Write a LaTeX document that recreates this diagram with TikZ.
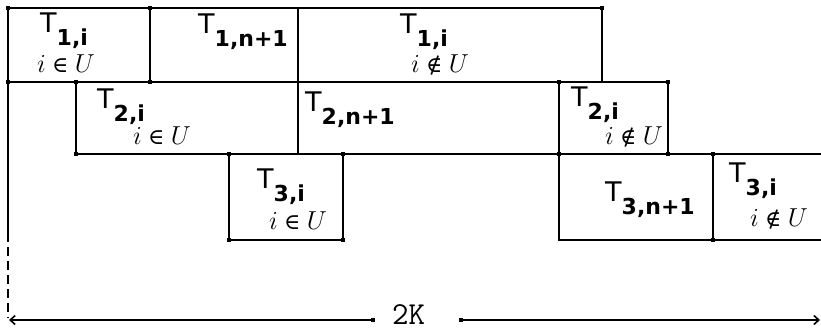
\RequirePackage{fix-cm}
\documentclass[tikz,border=0pt]{standalone}
\usepackage{fontspec}
\setmainfont{DejaVu Sans}
\newfontfamily\relfont{DejaVu Serif}
\usetikzlibrary{arrows.meta}
\tikzset{
  ln/.style={line width=1.6pt, line cap=rect},
  lbl/.style={inner sep=0pt, anchor=base west, font=\fontsize{27}{29}\selectfont},
  cond/.style={inner sep=0pt, font=\fontsize{26}{28}\selectfont},
  dotbox/.style={fill=black, minimum size=4.5pt, inner sep=0pt, shape=rectangle},
}
\newcommand{\Tlab}[1]{T\raisebox{-13pt}{\fontsize{22}{24}\selectfont\bfseries #1}}
\newcommand{\inU}{$i$\hspace{0.25em}{\relfont\fontsize{22}{24}\selectfont ∈}\hspace{0.25em}$U$}
\newcommand{\ninU}{$i$\hspace{0.25em}{\relfont\fontsize{22}{24}\selectfont ∉}\hspace{0.25em}$U$}
\begin{document}
\begin{tikzpicture}[x=1pt,y=-1pt]
\useasboundingbox (0,0) rectangle (821,330);
% corner coordinates
\coordinate (a1) at (8,8);   \coordinate (a2) at (150,8);  \coordinate (a3) at (298,8);  \coordinate (a4) at (602,8);
\coordinate (b0) at (8,82);  \coordinate (b1) at (76,82);  \coordinate (b2) at (150,82); \coordinate (b3) at (298,82);
\coordinate (b4) at (559,82); \coordinate (b5) at (602,82); \coordinate (b6) at (668,82);
\coordinate (c1) at (76,154); \coordinate (c2) at (229,154); \coordinate (c3) at (343,154); \coordinate (c4) at (559,154);
\coordinate (c5) at (668,154); \coordinate (c6) at (713,154); \coordinate (c7) at (821,154);
\coordinate (d2) at (229,240); \coordinate (d3) at (343,240); \coordinate (d4) at (559,240); \coordinate (d6) at (713,240); \coordinate (d7) at (821,240);
\coordinate (s) at (8,233); \coordinate (e) at (8,318);
\coordinate (l0) at (9,320); \coordinate (l1) at (373,320); \coordinate (r1) at (461,320); \coordinate (r2) at (820,320);
% row 1
\draw[ln] (a1) -- (a4) -- (b5);
\draw[ln] (a2) -- (b2);
\draw[ln] (a3) -- (b3);
% row 2
\draw[ln] (b0) -- (b6) -- (c5);
\draw[ln] (b1) -- (c1);
\draw[ln] (b3) -- (c3 -| b3);
\draw[ln] (b4) -- (d4);
% row 3
\draw[ln] (c1) -- (c7);
\draw[ln] (c2) -- (d2) -- (d3) -- (c3);
\draw[ln] (d4) -- (d7);
\draw[ln] (c6) -- (d6);
% left side
\draw[ln] (a1) -- (s);
\draw[ln, line cap=butt, dash pattern=on 9pt off 5pt] (s) -- (e);
% dimension
\draw[ln, -{Straight Barb[length=5pt,width=9pt]}] (l1) -- (l0);
\draw[ln, -{Straight Barb[length=5pt,width=9pt]}] (r1) -- (r2);
% dots
\foreach \p in {a1,a2,a4,b0,b1,b2,b4,b6,c1,c2,c3,c4,c5,c6,d2,d3,d6,l1,r1}
  \node[dotbox] at (\p) {};
% labels
\node[lbl] (t1a) at (40,32) {\Tlab{1,i}};
\node[cond] (u1a) at (66,64) {\inU};
\node[lbl] (t1b) at (198,33) {\Tlab{1,n+1}};
\node[lbl] (t1c) at (400,33) {\Tlab{1,i}};
\node[cond] (u1c) at (440,65) {\ninU};
\node[lbl] (t2a) at (97,108) {\Tlab{2,i}};
\node[cond] (u2a) at (162,136) {\inU};
\node[lbl] (t2b) at (305,111) {\Tlab{2,n+1}};
\node[lbl] (t2c) at (571,106) {\Tlab{2,i}};
\node[cond] (u2c) at (634,137) {\ninU};
\node[lbl] (t3a) at (257,188) {\Tlab{3,i}};
\node[cond] (u3a) at (298,221) {\inU};
\node[lbl] (t3b) at (605,201) {\Tlab{3,n+1}};
\node[lbl] (t3c) at (729,182) {\Tlab{3,i}};
\node[cond] (u3c) at (779,219) {\ninU};
\node[inner sep=0pt, anchor=base west, font=\ttfamily\fontsize{32}{32}\selectfont] (k) at (392,324) {2K};
\end{tikzpicture}
\end{document}
